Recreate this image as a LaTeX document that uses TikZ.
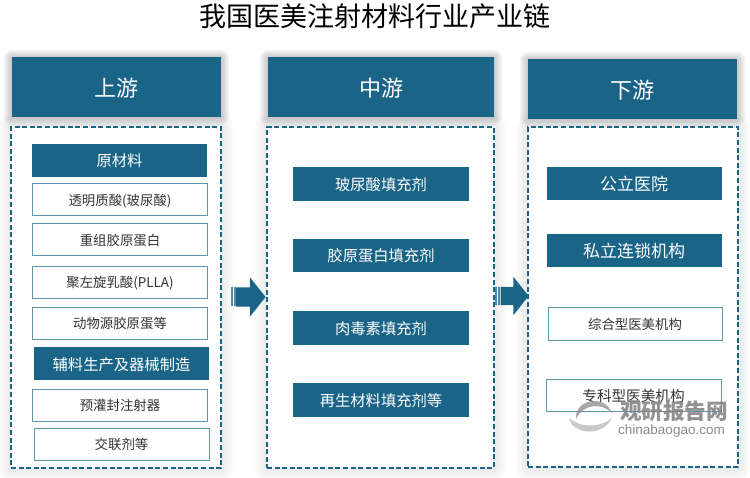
\documentclass[tikz,border=0pt]{standalone}
\usepackage{fontspec}
\setmainfont{Noto Sans CJK SC}
\setsansfont{Liberation Sans}
\usetikzlibrary{shapes.arrows}
\definecolor{teal1}{HTML}{1A6488}
\definecolor{teal2}{HTML}{5E96AE}
\newcommand{\fs}[1]{\fontsize{#1}{#1}\selectfont}
\tikzset{
  every node/.append style={text depth=0pt},
  head/.style={fill=teal1,text=white,minimum width=#1,minimum height=60pt,inner sep=0pt,font=\fs{22}},
  frame/.style={draw=teal1,line width=1.5pt,dash pattern=on 5pt off 2.6pt,fill=white},
  bar/.style={fill=teal1,text=white,minimum width=175pt,minimum height=33pt,inner sep=0pt,font=\fs{15.3}},
  item/.style={draw=teal2,line width=.8pt,fill=white,text=black!80,minimum width=175pt,minimum height=32pt,inner sep=0pt,font=\fs{13.4}},
  bigarrow/.style={single arrow,fill=teal1,minimum height=29.5pt,inner xsep=0pt,inner ysep=9.5pt,single arrow head extend=10pt,single arrow head indent=0pt,single arrow tip angle=103},
  stripe/.style={fill=teal1!75,minimum width=2pt,minimum height=19pt,inner sep=0pt}
}
\begin{document}
\begin{tikzpicture}[x=1pt,y=-1pt]
  \useasboundingbox (0,0) rectangle (750,478);
  \fill[white] (0,0) rectangle (750,478);
  % soft halo round columns
  \foreach \xa/\xb in {11/221,267/494,528/738}{
    \foreach \d in {12,9,6,3}{
      \fill[black,opacity=.018,rounded corners=\d pt] (\xa-\d,127-\d) rectangle (\xb+\d,468+\d);
    }
  }
  \foreach \xa/\xb/\ya/\yb in {12/221/58/117,268/494/58/117,528/737/60/118}{
    \foreach \d in {8,6,4,2}{
      \fill[black,opacity=.05,rounded corners=\d pt] (\xa-\d,\ya-\d) rectangle (\xb+\d,\yb+\d);
    }
  }
  \node[font=\fs{27},text=black] (title) at (375,15) {我国医美注射材料行业产业链};
  % columns
  \node[head=209pt] (up) at (116.5,87.5) {上游};
  \node[head=226pt] (mid) at (381,87.5) {中游};
  \node[head=209pt] (down) at (632.5,89) {下游};
  \node[frame,minimum width=210pt,minimum height=341pt,inner sep=0pt] (upbox) at (116,297.5) {};
  \node[frame,minimum width=227pt,minimum height=341pt,inner sep=0pt] (midbox) at (380.5,297.5) {};
  \node[frame,minimum width=210pt,minimum height=340pt,inner sep=0pt] (downbox) at (633,297) {};
  % upstream
  \node[bar] (raw) at (119.5,160.5) {原材料};
  \node[item] (u1) at (120,199.5) {透明质酸(玻尿酸)};
  \node[item] (u2) at (120,239.5) {重组胶原蛋白};
  \node[item] (u3) at (120,282) {聚左旋乳酸(PLLA)};
  \node[item] (u4) at (120,323) {动物源胶原蛋等};
  \node[bar] (aux) at (121.5,364) {辅料生产及器械制造};
  \node[item] (u5) at (120,405) {预灌封注射器};
  \node[item] (u6) at (121.5,444) {交联剂等};
  % midstream
  \node[bar,minimum width=176pt,minimum height=34pt] (m1) at (381,184) {玻尿酸填充剂};
  \node[bar,minimum width=176pt,minimum height=33pt] (m2) at (381,255.5) {胶原蛋白填充剂};
  \node[bar,minimum width=176pt,minimum height=34pt] (m3) at (381,328) {肉毒素填充剂};
  \node[bar,minimum width=176pt,minimum height=34pt] (m4) at (381,400) {再生材料填充剂等};
  % downstream
  \node[bar,font=\fs{17}] (d1) at (634,183.5) {公立医院};
  \node[bar,font=\fs{17}] (d2) at (634,250.5) {私立连锁机构};
  \node[item,minimum width=174pt,minimum height=33pt] (d3) at (635,323.5) {综合型医美机构};
  \node[item,font=\fs{14.6},minimum height=32pt] (d4) at (633.5,395) {专科型医美机构};
  % arrows
  \node[bigarrow] (a1) at (247,297) {};
  \node[stripe] (a1s1) at (232,297) {};
  \node[stripe] (a1s2) at (235.2,297) {};
  \node[bigarrow,minimum height=28pt,inner ysep=9pt] (a2) at (511,296) {};
  \node[stripe,minimum height=18pt] (a2s1) at (496,296) {};
  \node[stripe,minimum height=18pt] (a2s2) at (499,296) {};
  % watermark
  \fill[black!45,opacity=.75] (576,419) .. controls (574,400) and (604,393) .. (612,413) .. controls (602,403) and (584,403) .. (576,419);
  \fill[black!25,opacity=.85] (569,418) .. controls (572,434) and (602,438) .. (612,418) .. controls (600,428) and (580,428) .. (569,418);
  \node[font=\bfseries\fs{21.6},text=black!50,opacity=.85] (wm1) at (674,410) {观研报告网};
  \node[font=\sffamily\fs{13.5},text=black!45] (wm2) at (671.5,430) {chinabaogao.com};
\end{tikzpicture}
\end{document}
